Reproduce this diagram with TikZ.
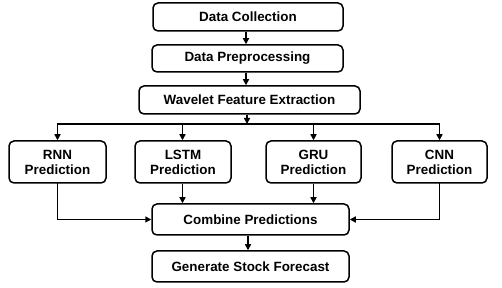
\documentclass[tikz,border=0pt]{standalone}
\usepackage{fontspec}
\setmainfont{Liberation Sans}
\usetikzlibrary{arrows.meta}
\begin{document}
\begin{tikzpicture}[x=1pt,y=1pt,
  box/.style={draw=black, line width=1.5pt, rounded corners=5pt, fill=white,
    inner sep=0pt, align=center, font=\fontsize{13.4}{15}\selectfont\bfseries},
  arr/.style={line width=1.6pt, -{Triangle[length=6pt,width=6pt]}},
  ln/.style={line width=1.6pt, line cap=rect}]
\useasboundingbox (0,0) rectangle (502,288);
\node[box, minimum width=190pt, minimum height=28pt] (dc) at (248,271) {Data Collection};
\node[box, minimum width=191pt, minimum height=27pt] (dp) at (247.5,229.5) {Data Preprocessing};
\node[box, minimum width=221pt, minimum height=28pt] (wfe) at (249.5,188) {Wavelet Feature Extraction};
\node[box, minimum width=97pt, minimum height=42pt] (rnn) at (57.5,126) {RNN\\Prediction};
\node[box, minimum width=96pt, minimum height=42pt] (lstm) at (183,126) {LSTM\\Prediction};
\node[box, minimum width=95pt, minimum height=42pt] (gru) at (313.5,126) {GRU\\Prediction};
\node[box, minimum width=95pt, minimum height=42pt] (cnn) at (439.5,126) {CNN\\Prediction};
\node[box, minimum width=197pt, minimum height=31pt] (comb) at (250.5,68.5) {Combine Predictions};
\node[box, minimum width=197pt, minimum height=31pt] (gen) at (250.5,21.5) {Generate Stock Forecast};
\coordinate (br) at (247,164);
\coordinate (b1) at (57.5,164);
\coordinate (b2) at (182.5,164);
\coordinate (b3) at (313.5,164);
\coordinate (b4) at (439.5,164);
\coordinate (c1) at (57.5,68.5);
\coordinate (c4) at (439.5,68.5);
\draw[arr] (dc.south -| 246,0) -- (dp.north -| 246,0);
\draw[arr] (dp.south -| 246,0) -- (wfe.north -| 246,0);
\draw[arr] (wfe.south -| br) -- (br);
\draw[ln] (b1) -- (b4);
\draw[arr] (b1) -- (rnn.north -| b1);
\draw[arr] (b2) -- (lstm.north -| b2);
\draw[arr] (b3) -- (gru.north -| b3);
\draw[arr] (b4) -- (cnn.north -| b4);
\draw[ln] (rnn.south -| b1) -- (c1);
\draw[arr] (c1) -- (comb.west);
\draw[ln] (cnn.south -| b4) -- (c4);
\draw[arr] (c4) -- (comb.east);
\draw[arr] (lstm.south -| b2) -- (comb.north -| b2);
\draw[arr] (gru.south -| b3) -- (comb.north -| b3);
\draw[arr] (comb.south -| 248,0) -- (gen.north -| 248,0);
\end{tikzpicture}
\end{document}
